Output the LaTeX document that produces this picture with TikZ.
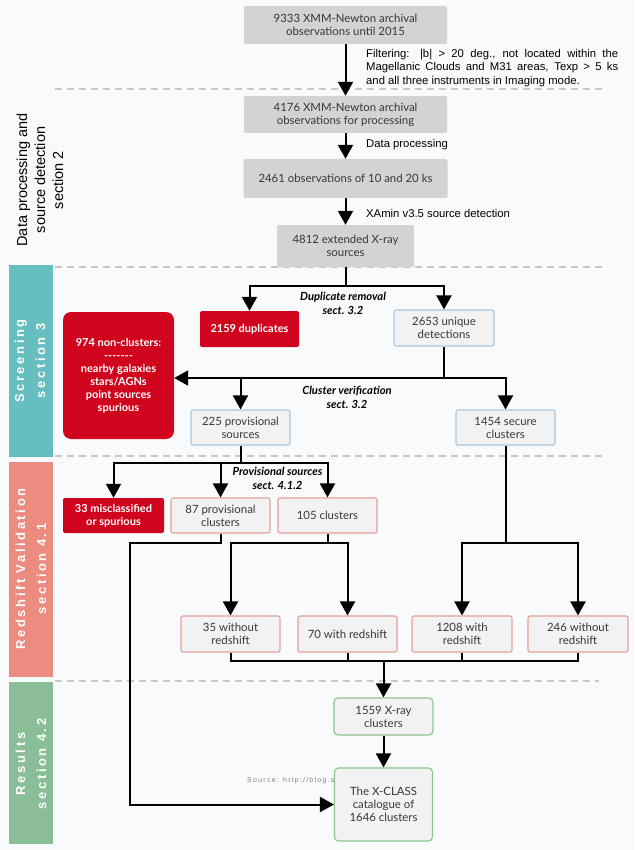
\documentclass[tikz,border=0pt]{standalone}
\usepackage{fontspec}
\setmainfont{Lato}
\newfontfamily\arialfont{Liberation Sans}
\newfontfamily\bandfont[LetterSpace=20]{Liberation Sans}
\newfontfamily\srcfont[LetterSpace=18]{Liberation Sans}
\usetikzlibrary{arrows.meta}

\definecolor{pagebg}{RGB}{249,250,252}
\definecolor{topgray}{RGB}{211,211,213}
\definecolor{boxfill}{RGB}{242,242,242}
\definecolor{alertred}{RGB}{208,4,28}
\definecolor{edgeblue}{RGB}{165,200,228}
\definecolor{edgepink}{RGB}{230,160,152}
\definecolor{edgegreen}{RGB}{140,196,140}
\definecolor{textgray}{RGB}{55,55,55}
\definecolor{dashgray}{RGB}{200,200,202}
\definecolor{bandteal}{RGB}{102,190,190}
\definecolor{bandsalmon}{RGB}{236,140,128}
\definecolor{bandgreen}{RGB}{138,190,150}
\definecolor{srcgray}{RGB}{130,130,130}

\tikzset{
  box/.style={rectangle, rounded corners=2pt, align=center, inner sep=1pt,
    font=\fontsize{11.4}{13}\selectfont, text=textgray},
  graybox/.style={box, fill=topgray},
  redbox/.style={box, fill=alertred, text=white, font=\bfseries\fontsize{11}{13}\selectfont},
  bluebox/.style={box, draw=edgeblue, fill=boxfill, line width=1.1pt},
  pinkbox/.style={box, draw=edgepink, fill=boxfill, line width=1.1pt},
  greenbox/.style={box, draw=edgegreen, fill=boxfill, line width=1.1pt, rounded corners=4pt},
  flow/.style={line width=2pt, black},
  flowarrow/.style={flow, -{Triangle[length=14pt,width=15pt]}},
  steplabel/.style={font=\bfseries\itshape\fontsize{11.2}{14}\selectfont, align=center},
  filterlabel/.style={font=\arialfont\fontsize{11.3}{13.4}\selectfont, inner sep=0pt},
  sectionline/.style={draw=dashgray, line width=1.2pt, dash pattern=on 7pt off 5pt},
  bandtext/.style={rotate=90, text=white, align=center,
    font=\bandfont\bfseries\fontsize{13}{21}\selectfont},
}

\begin{document}
\begin{tikzpicture}[x=1pt,y=-1pt]
  \useasboundingbox (0,0) rectangle (634,850);
  \fill[pagebg] (0,0) rectangle (634,850);

  % section separators and side bands
  \draw[sectionline] (55,89) -- (603,89);
  \draw[sectionline] (55,267) -- (603,267);
  \draw[sectionline] (55,456) -- (603,456);
  \draw[sectionline] (55,681) -- (599,681);
  \fill[bandteal] (9,265) rectangle (53,457);
  \fill[bandsalmon] (9,462) rectangle (53,677);
  \fill[bandgreen] (9,682) rectangle (53,844);
  \node[rotate=90, align=center, font=\arialfont\fontsize{14.5}{18}\selectfont] (sec2) at (40,180)
    {Data processing and\\source detection\\section 2};
  \node[bandtext] (sec3) at (30,361) {Screening\\section 3};
  \node[bandtext] (sec41) at (31,569) {Redshift Validation\\section 4.1};
  \node[bandtext] (sec42) at (31,764) {Results\\section 4.2};

  % data processing
  \node[graybox, minimum width=203pt, minimum height=38pt] (obs) at (345.5,25)
    {9333 XMM-Newton archival\\observations until 2015};
  \node[graybox, minimum width=203pt, minimum height=37pt] (proc) at (345.5,114.5)
    {4176 XMM-Newton archival\\observations for processing};
  \node[graybox, minimum width=204pt, minimum height=39pt] (short) at (345.5,178.5)
    {2461 observations of 10 and 20 ks};
  \node[graybox, minimum width=137pt, minimum height=42pt] (ext) at (345.5,246)
    {4812 extended X-ray\\sources};
  \node[filterlabel, anchor=north west, align=left] (filter) at (366,49)
    {\makebox[252pt][s]{Filtering: |b| > 20 deg., not located within the}\\
     \makebox[252pt][s]{Magellanic Clouds and M31 areas, Texp > 5 ks}\\
     and all three instruments in Imaging mode.};
  \node[filterlabel, anchor=west] (proclab) at (366,145) {Data processing};
  \node[filterlabel, anchor=west] (detlab) at (366,213) {XAmin v3.5 source detection};
  \draw[flowarrow] (obs) -- (proc);
  \draw[flowarrow] (proc) -- (short);
  \draw[flowarrow] (short) -- (ext);

  % screening
  \node[redbox, minimum width=99pt, minimum height=36pt] (dup) at (249.5,329) {2159 duplicates};
  \node[bluebox, minimum width=100pt, minimum height=36pt] (uniq) at (444,328) {2653 unique\\detections};
  \node[redbox, rounded corners=8pt, minimum width=111pt, minimum height=127pt] (noncl) at (118.5,375.5)
    {974 non-clusters:\\-{}-{}-{}-{}-{}-{}-\\nearby galaxies\\stars/AGNs\\point sources\\spurious};
  \node[bluebox, minimum width=99pt, minimum height=35pt] (prov) at (240.5,427.5) {225 provisional\\sources};
  \node[bluebox, minimum width=99pt, minimum height=35pt] (secure) at (505.5,427.5) {1454 secure\\clusters};
  \coordinate (dupsplit) at (345.5,286);
  \draw[flow] (ext.south) -- (dupsplit);
  \draw[flowarrow] (dupsplit) -| (dup.north);
  \draw[flowarrow] (dupsplit) -| (uniq.north);
  \node[steplabel] (duplab) at (343,303) {Duplicate removal\\sect. 3.2};
  \coordinate (versplit) at (444,378);
  \draw[flow] (uniq.south) -- (versplit);
  \draw[flowarrow] (versplit) -- (noncl.east |- versplit);
  \draw[flowarrow] (versplit) -| (prov.north);
  \draw[flowarrow] (versplit) -| (secure.north);
  \node[steplabel] (verlab) at (347,397) {Cluster verification\\sect. 3.2};

  % redshift validation
  \node[redbox, minimum width=101pt, minimum height=35pt] (mis) at (113.5,515.5) {33 misclassified\\or spurious};
  \node[pinkbox, minimum width=99pt, minimum height=35pt] (p87) at (220.5,515.5) {87 provisional\\clusters};
  \node[pinkbox, minimum width=99pt, minimum height=35pt] (c105) at (327.5,515.5) {105 clusters};
  \node[pinkbox, minimum width=99pt, minimum height=36pt] (w35) at (230.5,634) {35 without\\redshift};
  \node[pinkbox, minimum width=99pt, minimum height=36pt] (r70) at (347.5,634) {70 with redshift};
  \node[pinkbox, minimum width=100pt, minimum height=36pt] (r1208) at (462,634) {1208 with\\redshift};
  \node[pinkbox, minimum width=100pt, minimum height=36pt] (w246) at (578,634) {246 without\\redshift};
  \coordinate (provsplit) at (240.5,463);
  \draw[flow] (prov.south) -- (provsplit);
  \draw[flowarrow] (provsplit) -| (mis.north);
  \draw[flowarrow] (provsplit) -| (p87.north);
  \draw[flowarrow] (provsplit) -| (c105.north);
  \node[steplabel] (provlab) at (277.5,478) {Provisional sources\\sect. 4.1.2};
  \coordinate (c105split) at (327.5,543);
  \draw[flow] (c105.south) -- (c105split);
  \draw[flowarrow] (c105split) -| (w35.north);
  \draw[flowarrow] (c105split) -| (r70.north);
  \coordinate (securesplit) at (505.5,543);
  \draw[flow] (secure.south) -- (securesplit);
  \draw[flowarrow] (securesplit) -| (r1208.north);
  \draw[flowarrow] (securesplit) -| (w246.north);

  % results
  \node[anchor=west, text=srcgray, font=\srcfont\fontsize{7}{8}\selectfont, inner sep=0pt] (src) at (247,781)
    {Source: http://blog.s};
  \node[greenbox, minimum width=99pt, minimum height=37pt] (xray) at (383.5,716.5) {1559 X-ray\\clusters};
  \node[greenbox, minimum width=98pt, minimum height=73pt] (final) at (383.5,804.5)
    {The X-CLASS\\catalogue of\\1646 clusters};
  \coordinate (merge) at (383.5,661);
  \draw[flow] (w35.south) |- (merge);
  \draw[flow] (r70.south) |- (merge);
  \draw[flow] (r1208.south) |- (merge);
  \draw[flow] (w246.south) |- (merge);
  \draw[flowarrow] (merge) -- (xray.north);
  \draw[flowarrow] (xray) -- (final);
  \coordinate (bypass) at (130,543);
  \draw[flowarrow] (p87.south) |- (bypass) |- (final.west);
\end{tikzpicture}
\end{document}
